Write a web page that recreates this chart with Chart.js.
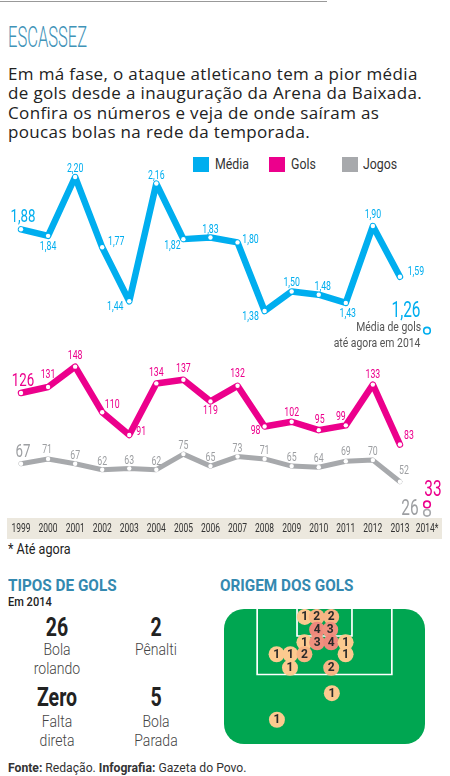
<!DOCTYPE html>
<html lang="pt-BR">
<head>
<meta charset="utf-8">
<script src="https://cdn.jsdelivr.net/npm/chart.js@4.4.1/dist/chart.umd.min.js"></script>
<style>
  body { margin: 0; width: 450px; height: 776px; background: #fff; overflow: hidden; position: relative; font-family: Roboto, sans-serif; }
  .t { position: absolute; white-space: nowrap; line-height: 1; }
  .l { transform-origin: left center; }
  .r { transform-origin: right center; text-align: right; }
  .c { transform-origin: center center; text-align: center; width: 100px; }
  .rule { position: absolute; left: 0; top: 1px; width: 327px; height: 1px; background: #999; }
  .sw { position: absolute; top: 157px; width: 16px; height: 15px; }
  .num { font-size: 26px; font-weight: 700; color: #222; transform: scaleX(0.75); }
  .cap { font-size: 16.5px; font-weight: 300; color: #444; line-height: 19px; transform: scaleX(0.85); }
  .head { font-size: 17px; font-weight: 700; color: #3489b0; transform: scaleX(0.9); }
  canvas { position: absolute; }
</style>
</head>
<body>
<div class="rule"></div>
<div class="t l" style="left:8px; top:23.3px; font-size:29px; font-weight:300; color:#3f93b8; transform:scaleX(0.57);">ESCASSEZ</div>
<div class="t" style="left:8px; top:63.5px; font-family:'Open Sans'; font-size:17px; line-height:19.6px; letter-spacing:0.35px; color:#222;">Em má fase, o ataque atleticano tem a pior média<br>de gols desde a inauguração da Arena da Baixada.<br>Confira os números e veja de onde saíram as<br>poucas bolas na rede da temporada.</div>

<div class="sw" style="left:193px; background:#00aeef;"></div>
<div class="sw" style="left:269px; background:#ec008c;"></div>
<div class="sw" style="left:342px; background:#a7a9ac;"></div>
<div class="t l" style="left:214.5px; top:156.6px; font-size:14px; color:#333; transform:scaleX(0.88);">Média</div>
<div class="t l" style="left:291px; top:156.6px; font-size:14px; color:#333; transform:scaleX(0.88);">Gols</div>
<div class="t l" style="left:362.7px; top:156.6px; font-size:14px; color:#333; transform:scaleX(0.88);">Jogos</div>

<canvas id="main" width="450" height="390" style="left:0; top:150px;"></canvas>

<div class="t r" style="right:29.3px; top:320px; font-size:13px; color:#555; transform:scaleX(0.8);">Média de gols</div>
<div class="t r" style="right:29.3px; top:336px; font-size:13px; color:#555; transform:scaleX(0.8);">até agora em 2014</div>
<div class="t l" style="left:8px; top:541.6px; font-size:14px; color:#222; transform:scaleX(0.9);">* Até agora</div>

<div class="t l head" style="left:8px; top:576.7px;">TIPOS DE GOLS</div>
<div class="t l" style="left:8px; top:595.3px; font-size:13px; font-weight:500; color:#222; transform:scaleX(0.85);">Em 2014</div>
<div class="t c num" style="left:6.7px; top:614px;">26</div>
<div class="t c cap" style="left:6.7px; top:639.7px;">Bola<br>rolando</div>
<div class="t c num" style="left:106px; top:614px;">2</div>
<div class="t c cap" style="left:106px; top:639.7px;">Pênalti</div>
<div class="t c num" style="left:6.7px; top:684.3px;">Zero</div>
<div class="t c cap" style="left:6.7px; top:711.7px;">Falta<br>direta</div>
<div class="t c num" style="left:106px; top:684.3px;">5</div>
<div class="t c cap" style="left:106px; top:711.7px;">Bola<br>Parada</div>

<div class="t l head" style="left:220px; top:576.7px;">ORIGEM DOS GOLS</div>
<canvas id="field" width="217" height="151" style="left:216px; top:601px;"></canvas>

<div class="t l" style="left:8px; top:760.8px; font-size:13.5px; color:#333; transform:scaleX(0.9);"><b style="font-weight:700;">Fonte:</b> Redação. <b style="font-weight:700;">Infografia:</b> Gazeta do Povo.</div>

<script>
// season by season
const years = ['1999', '2000', '2001', '2002', '2003', '2004', '2005', '2006', '2007', '2008', '2009', '2010', '2011', '2012', '2013', '2014*'];
const media = [1.88, 1.84, 2.20, 1.77, 1.44, 2.16, 1.82, 1.83, 1.80, 1.38, 1.50, 1.48, 1.43, 1.90, 1.59, 1.26];
const gols = [126, 131, 148, 110, 91, 134, 137, 119, 132, 98, 102, 95, 99, 133, 83, 33];
const jogos = [67, 71, 67, 62, 63, 62, 75, 65, 73, 71, 65, 64, 69, 70, 52, 26];

// where the 2014 goals came from (metres across the pitch / from the goal line)
const shotX = [24.1, 27.7, 32.0, 27.8, 31.7, 24.0, 27.8, 32.0, 36.3, 15.7, 19.8, 24.0, 36.3, 19.7, 32.0, 32.2, 15.8];
const shotY = [2.0, 2.0, 2.0, 5.2, 5.2, 8.4, 8.4, 8.4, 8.4, 11.4, 11.4, 11.4, 11.4, 14.8, 14.8, 21.2, 27.9];
const shotGoals = [1, 2, 2, 4, 3, 1, 3, 4, 1, 1, 1, 2, 1, 1, 2, 1, 1];

const LAST = years.length - 1;
const CYAN = '#00aeef', PINK = '#ec008c', GREY = '#a7a9ac';

function condensed(ctx, text, x, y, font, color, sx) {
  ctx.save();
  ctx.translate(x, y);
  ctx.scale(sx, 1);
  ctx.font = font;
  ctx.fillStyle = color;
  ctx.textAlign = 'center';
  ctx.textBaseline = 'middle';
  ctx.fillText(text, 0, 0);
  ctx.restore();
}

function lineSet(label, data, color, width, axis, fmt, dx, dy, textColor) {
  return {
    label, data, yAxisID: axis,
    borderColor: color, borderWidth: width,
    borderJoinStyle: 'round', borderCapStyle: 'round',
    tension: 0,
    segment: { borderColor: c => c.p1DataIndex === LAST ? 'rgba(0,0,0,0)' : undefined },
    pointRadius: c => c.dataIndex === LAST ? 3.3 : 2.2,
    pointBorderWidth: c => c.dataIndex === LAST ? 1.6 : 0,
    pointBackgroundColor: '#fff',
    pointBorderColor: color,
    fmt, dx, dy, textColor
  };
}

const valueLabels = {
  id: 'valueLabels',
  beforeDraw(chart) {
    const { ctx, scales: { x } } = chart;
    ctx.save();
    ctx.fillStyle = '#ece8de';
    ctx.fillRect(7, x.top, 435, x.height);
    ctx.restore();
  },
  afterDatasetsDraw(chart) {
    const { ctx, scales: { x } } = chart;
    years.forEach((yr, i) => {
      condensed(ctx, yr, x.getPixelForValue(i), x.top + x.height / 2 + 0.5, '13px Roboto', '#333', 0.65);
    });
    chart.data.datasets.forEach((ds, di) => {
      const meta = chart.getDatasetMeta(di);
      meta.data.forEach((pt, i) => {
        let size = 12.5;
        if (i === 0) size = 19;
        if (i === LAST) size = 22;
        condensed(ctx, ds.fmt(ds.data[i]), pt.x + ds.dx[i], pt.y + ds.dy[i], size + 'px Roboto', ds.textColor, 0.7);
      });
    });
  }
};

new Chart(document.getElementById('main'), {
  type: 'line',
  data: {
    labels: years,
    datasets: [
      lineSet('Média', media, CYAN, 6.5, 'yM', v => v.toFixed(2).replace('.', ','),
        [2, 0, 0, 14, -14, 0, -11, 0, 13, -14, 0, 4, 2, 0, 16, -21],
        [-12, 11, -8, -5, 6, -8, 7, -8, -3, 6, -9, -8, 11, -11, -5, -19], CYAN),
      lineSet('Gols', gols, PINK, 6.5, 'yG', v => String(v),
        [2, 0, 0, 10, 12, 0, 0, 0, 0, -9, 0, 1, -5, 0, 9, 6],
        [-12, -12, -11, -7, -3, -11, -11, 9, -12, 4, -9, -10, -8, -10, -9, -14], PINK),
      lineSet('Jogos', jogos, GREY, 5, 'yG', v => String(v),
        [2, -1, 0, 0, 0, 0, 0, 0, 0, 0, 0, 0, 0, 0, 4, -17],
        [-11, -9, -8, -8, -8, -8, -8, -8, -8, -8, -8, -8, -9, -8, -11, -3], '#9d9fa2')
    ]
  },
  options: {
    responsive: false,
    animation: false,
    layout: { padding: { left: 21, right: 23, top: 0, bottom: 1 } },
    plugins: { legend: { display: false }, tooltip: { enabled: false } },
    scales: {
      x: {
        offset: false,
        grid: { display: false, drawTicks: false },
        border: { display: false },
        ticks: { display: false },
        afterFit: s => { s.height = 21; }
      },
      yM: { display: false, min: 0.114, max: 2.331 },
      yG: { display: false, min: 21.7, max: 324.1 }
    }
  },
  plugins: [valueLabels]
});

// pitch
const penaltyBox = { x0: 9.9, x1: 50.1, depth: 16.5 };
const goalArea = { x0: 21.8, x1: 38.2, depth: 6.8 };

function shotColor(n) {
  if (n >= 4) return '#ee897c';
  if (n === 3) return '#f0917f';
  if (n === 2) return '#f7b585';
  return '#fcca8f';
}

const pitch = {
  id: 'pitch',
  beforeDraw(chart) {
    const { ctx, chartArea: a, scales: { x, y } } = chart;
    ctx.save();
    ctx.fillStyle = '#00a651';
    ctx.beginPath();
    ctx.roundRect(a.left, a.top, a.width, a.height, 20);
    ctx.fill();
    ctx.strokeStyle = '#fff';
    ctx.lineWidth = 1.7;
    [penaltyBox, goalArea].forEach(b => {
      const l = x.getPixelForValue(b.x0), r = x.getPixelForValue(b.x1);
      const top = y.getPixelForValue(0), bot = y.getPixelForValue(b.depth);
      ctx.beginPath();
      ctx.moveTo(l, top);
      ctx.lineTo(l, bot);
      ctx.lineTo(r, bot);
      ctx.lineTo(r, top);
      ctx.stroke();
    });
    ctx.restore();
  },
  afterDatasetsDraw(chart) {
    const { ctx } = chart;
    chart.getDatasetMeta(0).data.forEach((pt, i) => {
      ctx.save();
      ctx.font = '700 12px Roboto';
      ctx.fillStyle = '#2a2a2a';
      ctx.textAlign = 'center';
      ctx.textBaseline = 'middle';
      ctx.fillText(String(shotGoals[i]), pt.x, pt.y + 0.5);
      ctx.restore();
    });
  }
};

new Chart(document.getElementById('field'), {
  type: 'scatter',
  data: {
    datasets: [{
      data: shotX.map((v, i) => ({ x: v, y: shotY[i] })),
      pointRadius: 8,
      pointBorderWidth: 0,
      pointBackgroundColor: shotGoals.map(shotColor)
    }]
  },
  options: {
    responsive: false,
    animation: false,
    layout: { padding: 0 },
    plugins: { legend: { display: false }, tooltip: { enabled: false } },
    scales: {
      x: { display: false, min: 0, max: 60 },
      y: { display: false, min: 0, max: 34, reverse: true }
    }
  },
  plugins: [pitch]
});
</script>
</body>
</html>
